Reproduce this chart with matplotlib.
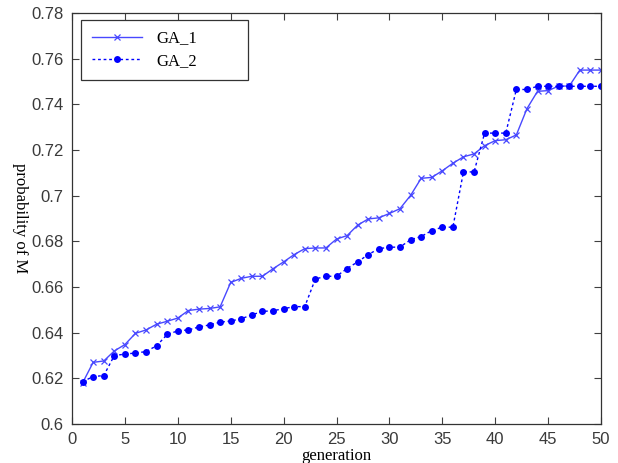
import numpy as np
import matplotlib
matplotlib.use('Agg')
from matplotlib import pyplot as plt

generation = np.arange(1, 51)

ga_1 = [0.6180, 0.6270, 0.6276, 0.6320, 0.6348, 0.6397, 0.6412, 0.6437, 0.6450, 0.6464,
        0.6497, 0.6503, 0.6506, 0.6513, 0.6620, 0.6638, 0.6647, 0.6647, 0.6680, 0.6710,
        0.6742, 0.6768, 0.6771, 0.6771, 0.6810, 0.6825, 0.6871, 0.6898, 0.6903, 0.6922,
        0.6943, 0.7001, 0.7076, 0.7080, 0.7109, 0.7142, 0.7170, 0.7183, 0.7219, 0.7241,
        0.7245, 0.7266, 0.7381, 0.7457, 0.7460, 0.7480, 0.7480, 0.7550, 0.7550, 0.7550]

ga_2 = [0.6185, 0.6208, 0.6212, 0.6300, 0.6306, 0.6311, 0.6317, 0.6343, 0.6392, 0.6408,
        0.6412, 0.6425, 0.6434, 0.6446, 0.6451, 0.6461, 0.6478, 0.6493, 0.6496, 0.6505,
        0.6514, 0.6514, 0.6635, 0.6647, 0.6647, 0.6681, 0.6710, 0.6742, 0.6768, 0.6774,
        0.6775, 0.6807, 0.6821, 0.6847, 0.6862, 0.6862, 0.7104, 0.7104, 0.7274, 0.7274,
        0.7274, 0.7465, 0.7465, 0.7479, 0.7479, 0.7479, 0.7479, 0.7479, 0.7479, 0.7479]

x_ticks = np.arange(0, 51, 5)
y_ticks = np.arange(0.6, 0.781, 0.02)


def main():
    fig = plt.figure(figsize=(6.18, 4.63), dpi=100)
    ax = fig.add_axes([72 / 618, 39 / 463, 529 / 618, 411 / 463])

    ax.plot(generation, ga_1, color='#4848ff', linestyle='-', linewidth=1.0,
            marker='x', markersize=5, markeredgewidth=0.9, label='GA_1')
    ax.plot(generation, ga_2, color='#0000ff', linestyle=(0, (2, 2)), linewidth=1.0,
            marker='o', markersize=5, markeredgewidth=0, label='GA_2')

    ax.set_xlim(0, 50)
    ax.set_ylim(0.6, 0.78)
    ax.set_xticks(x_ticks)
    ax.set_yticks(y_ticks)
    ax.set_yticklabels(['%g' % round(v, 2) for v in y_ticks])
    ax.tick_params(direction='in', top=True, right=True, length=5, width=0.8,
                   labelsize=12, colors='#404040', pad=6)
    for label in ax.get_xticklabels() + ax.get_yticklabels():
        label.set_family('Liberation Sans')
        label.set_color('#3a3a3a')
    for sp in ax.spines.values():
        sp.set_color('#333333')
        sp.set_linewidth(0.9)

    ax.set_xlabel('generation', family='Liberation Serif', fontsize=12, va='center')
    ax.xaxis.set_label_coords(0.5, -0.078)
    ax.set_ylabel('probability of M', family='Liberation Serif', fontsize=12,
                  rotation=-90, va='center')
    ax.yaxis.set_label_coords(-0.098, 0.5)

    # legend box spans roughly x 81..248 px, top at 20 px
    leg = ax.legend(loc='upper left', mode='expand',
                    bbox_to_anchor=(9 / 529, 1 - 7 / 411, 167 / 529, 0.001),
                    prop={'family': 'Liberation Serif', 'size': 12},
                    fancybox=False, framealpha=1, edgecolor='#333333',
                    handlelength=3.0, borderpad=0.65, labelspacing=0.38,
                    handletextpad=0.85, borderaxespad=0)
    leg.get_frame().set_linewidth(0.9)

    fig.savefig('out.png', dpi=100)


if __name__ == '__main__':
    main()
